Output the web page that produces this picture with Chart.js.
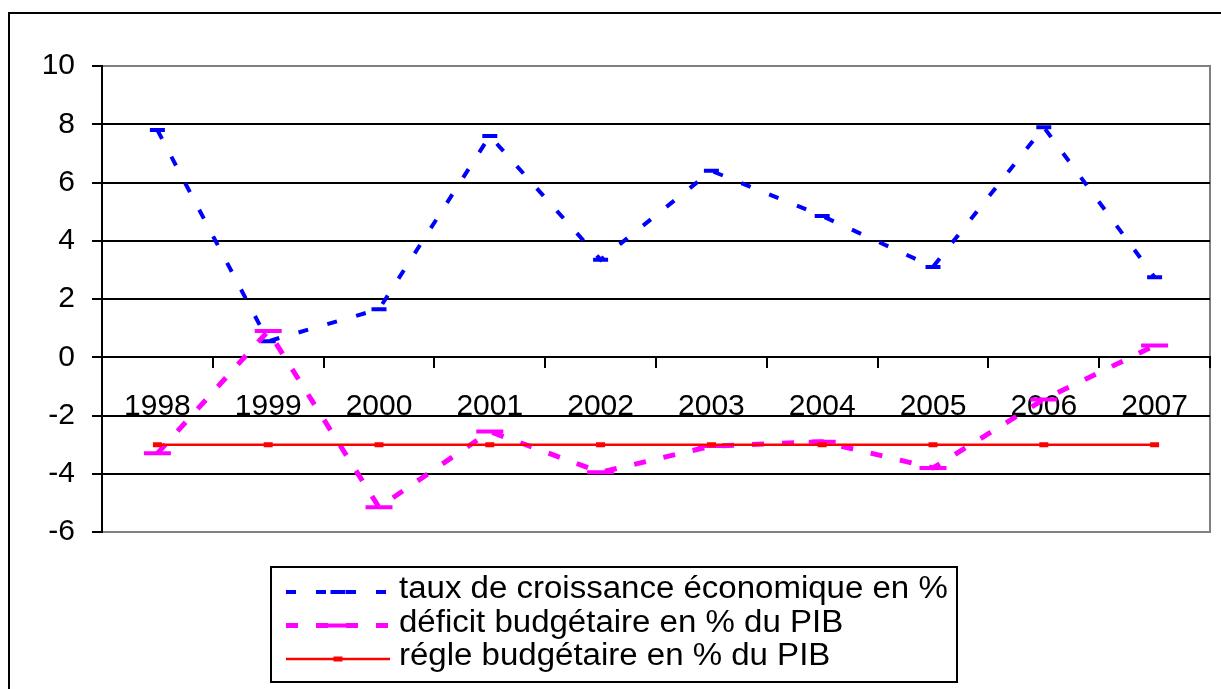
<!DOCTYPE html>
<html><head><meta charset="utf-8">
<script src="https://cdn.jsdelivr.net/npm/chart.js@4"></script>
<style>html,body{margin:0;padding:0;background:#fff;overflow:hidden;}#wrap{width:1221px;height:689px;position:relative;}</style>
</head><body><div id="wrap"><canvas id="c" width="1221" height="689"></canvas></div>
<script>
const years = ['1998','1999','2000','2001','2002','2003','2004','2005','2006','2007'];
const croissance = [7.8, 0.55, 1.65, 7.6, 3.35, 6.4, 4.85, 3.1, 7.9, 2.75];
const deficit = [-3.3, 0.9, -5.15, -2.55, -3.95, -3.05, -2.9, -3.8, -1.45, 0.4];
const regle = [-3, -3, -3, -3, -3, -3, -3, -3, -3, -3];
const yTicks = [-6, -4, -2, 0, 2, 4, 6, 8, 10];
const seriesNames = ['taux de croissance économique en %', 'déficit budgétaire en % du PIB', 'régle budgétaire en % du PIB'];

const FONT = "'Liberation Sans', Arial, sans-serif";

const framePlugin = {
  id: 'frame',
  beforeDraw(chart) {
    const ctx = chart.ctx, a = chart.chartArea;
    ctx.save();
    ctx.fillStyle = '#fff';
    ctx.fillRect(0, 0, chart.width, chart.height);
    ctx.strokeStyle = '#000';
    ctx.lineWidth = 2;
    ctx.strokeRect(9, 13, chart.width + 20, chart.height + 20);
    ctx.strokeStyle = '#808080';
    ctx.lineWidth = 2;
    ctx.strokeRect(a.left, a.top, a.right - a.left, a.bottom - a.top);
    ctx.restore();
  },
  afterDraw(chart) {
    const ctx = chart.ctx;
    ctx.save();
    ctx.strokeStyle = '#000';
    ctx.lineWidth = 2;
    ctx.strokeRect(271, 567, 686, 115);
    chart.data.datasets.forEach((ds, i) => {
      const y = 592 + i * 33.5;
      ctx.save();
      ctx.strokeStyle = ds.borderColor;
      ctx.lineWidth = ds.borderWidth;
      ctx.setLineDash(ds.borderDash || []);
      ctx.beginPath();
      ctx.moveTo(286, y);
      ctx.lineTo(390, y);
      ctx.stroke();
      ctx.restore();
      const r = ds.pointRadius, bw = ds.pointBorderWidth;
      ctx.fillStyle = ds.pointBorderColor;
      ctx.fillRect(338 - r, y - bw / 2, 2 * r, bw);
      ctx.save();
      ctx.translate(399, y - 2.5);
      ctx.scale(1.065, 1);
      ctx.fillStyle = '#000';
      ctx.font = '31px ' + FONT;
      ctx.textBaseline = 'middle';
      ctx.textAlign = 'left';
      ctx.fillText(ds.label, 0, 0);
      ctx.restore();
    });
    ctx.restore();
  }
};

new Chart(document.getElementById('c'), {
  type: 'line',
  data: {
    labels: years,
    datasets: [
      { label: seriesNames[0], data: croissance, borderColor: '#0000FF', borderWidth: 4, borderDash: [10, 20],
        pointStyle: 'line', pointRadius: 7.5, pointBorderWidth: 4, pointBorderColor: '#0000FF', pointBackgroundColor: '#0000FF', tension: 0, order: 3 },
      { label: seriesNames[1], data: deficit, borderColor: '#FF00FF', borderWidth: 5, borderDash: [12, 18],
        pointStyle: 'line', pointRadius: 13.5, pointBorderWidth: 4, pointBorderColor: '#FF00FF', pointBackgroundColor: '#FF00FF', tension: 0, order: 2 },
      { label: seriesNames[2], data: regle, borderColor: '#FF0000', borderWidth: 2.5,
        pointStyle: 'line', pointRadius: 4.5, pointBorderWidth: 5, pointBorderColor: '#FF0000', pointBackgroundColor: '#FF0000', tension: 0, order: 1 }
    ]
  },
  options: {
    responsive: false,
    devicePixelRatio: 1,
    animation: false,
    layout: { autoPadding: false, padding: { left: 0, right: 11, top: 66, bottom: 157 } },
    plugins: { legend: { display: false }, tooltip: { enabled: false } },
    scales: {
      x: {
        type: 'category',
        position: { y: 0 },
        offset: true,
        afterFit: (s) => { s.paddingLeft = 0; s.paddingRight = 0; },
        grid: { drawOnChartArea: false, drawTicks: true, tickLength: 10, offset: true, color: '#000', lineWidth: 2 },
        border: { display: true, color: '#000', width: 2 },
        ticks: { color: '#000', font: { family: FONT, size: 30 }, padding: 21, maxRotation: 0, autoSkip: false }
      },
      y: {
        min: -6, max: 10,
        afterBuildTicks: (s) => { s.ticks = yTicks.map(v => ({ value: v })); },
        afterFit: (s) => { s.width = 102; },
        grid: {
          color: (c) => (c.tick && (c.tick.value === 10 || c.tick.value === -6)) ? '#808080' : '#000',
          lineWidth: 2, tickLength: 10, tickColor: '#000', drawTicks: true
        },
        border: { display: true, color: '#000', width: 2 },
        ticks: { color: '#000', font: { family: FONT, size: 30 }, padding: 17 }
      }
    }
  },
  plugins: [framePlugin]
});
</script></body></html>
